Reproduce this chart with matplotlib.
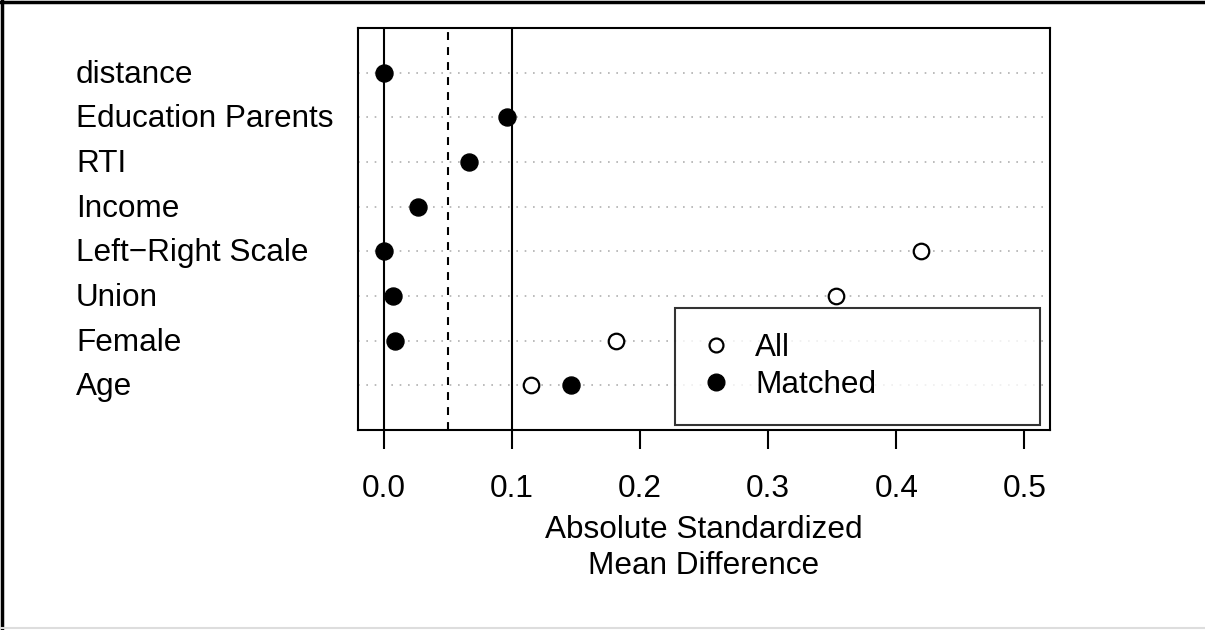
import numpy as np
import matplotlib
matplotlib.use("Agg")
import matplotlib.pyplot as plt
from matplotlib.lines import Line2D

# covariates, bottom to top as drawn
variables = ["Age", "Female", "Union", "Left\u2212Right Scale", "Income", "RTI",
             "Education Parents", "distance"]
all_vals = [0.115, 0.181, 0.353, 0.419, np.nan, np.nan, np.nan, np.nan]
matched_vals = [0.146, 0.0086, 0.007, 0.0, 0.0266, 0.0664, 0.096, 0.0]
xticks = [0.0, 0.1, 0.2, 0.3, 0.4, 0.5]

plt.rcParams["font.family"] = ["Liberation Sans", "DejaVu Sans"]
fs = 22.7
W, H = 1205, 630

fig = plt.figure(figsize=(W / 100, H / 100), dpi=100)
ax = fig.add_axes([358 / W, 1 - 430 / H, (1050 - 358) / W, (430 - 28) / H])

y = np.arange(1, len(variables) + 1)

# dotted row guides
for yy in y:
    ax.axhline(yy, color="#b0b0b0", linestyle=(0, (1, 4)), linewidth=1.2, zorder=1)

ax.axvline(0.0, color="black", linewidth=1.5, zorder=2)
ax.axvline(0.1, color="black", linewidth=1.5, zorder=2)
ax.axvline(0.05, color="black", linewidth=1.5, linestyle=(0, (3.8, 3.4)), zorder=2)

ax.scatter(all_vals, y, s=125, facecolors="white", edgecolors="black", linewidths=1.6, zorder=3)
ax.scatter(matched_vals, y, s=150, facecolors="black", edgecolors="black", zorder=4)

ax.set_xlim(-0.0203, 0.520)
ax.set_ylim(0, len(variables) + 1)
ax.set_xticks(xticks)
ax.set_xticklabels([f"{t:.1f}" for t in xticks], fontsize=fs)
ax.set_yticks([])
ax.tick_params(axis="x", length=13.7, width=1.5, pad=18)
for sp in ax.spines.values():
    sp.set_linewidth(1.5)

fig.canvas.draw()
for yy, name in zip(y, variables):
    py = ax.transData.transform((0, yy))[1] / H - 2 / H
    ax.text(76 / W, py, name, transform=fig.transFigure, ha="left", va="center", fontsize=fs)

ax.set_xlabel("Absolute Standardized\nMean Difference", fontsize=fs, labelpad=8, linespacing=1.25)

handles = [
    Line2D([], [], marker="o", linestyle="none", markerfacecolor="white", markeredgecolor="black",
           markersize=10, markeredgewidth=1.6),
    Line2D([], [], marker="o", linestyle="none", markerfacecolor="black", markeredgecolor="black",
           markersize=12),
]
x0 = (675 - 358) / 692
x1 = (1040 - 358) / 692
ytop = (430 - 308) / 402
leg = ax.legend(handles, ["All", "Matched"], loc="upper left", mode="expand",
                bbox_to_anchor=(x0, ytop - 0.01, x1 - x0, 0.01),
                fontsize=fs, frameon=True, fancybox=False, edgecolor="black",
                borderpad=0.8, handlelength=1.0, handletextpad=0.75, labelspacing=0.22,
                borderaxespad=0)
leg.get_frame().set_linewidth(1.5)

# figure border (top and left dark, bottom faint)
fig.add_artist(Line2D([0, 1], [1 - 2 / H, 1 - 2 / H], transform=fig.transFigure, color="black", linewidth=2.5))
fig.add_artist(Line2D([2 / W, 2 / W], [0, 1], transform=fig.transFigure, color="black", linewidth=2.5))
fig.add_artist(Line2D([0, 1], [2 / H, 2 / H], transform=fig.transFigure, color="#dddddd", linewidth=1.5))

fig.savefig("out.png", dpi=100)
